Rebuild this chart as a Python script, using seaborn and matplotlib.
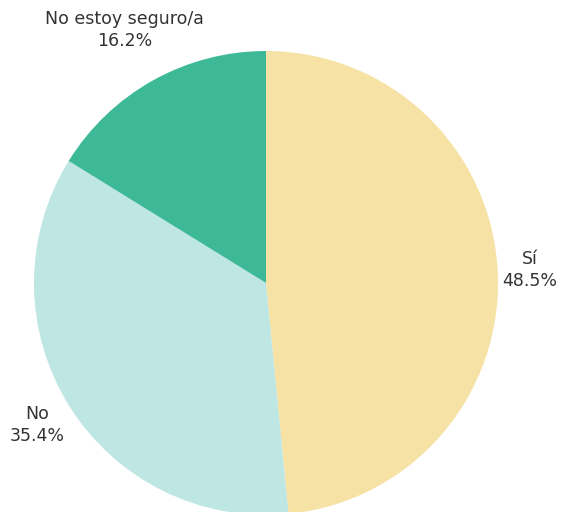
import numpy as np
import matplotlib
matplotlib.use("Agg")
import matplotlib.pyplot as plt
import seaborn as sns

sns.set_theme(style="white")
plt.rcParams['font.family'] = ['DejaVu Sans']

# Data
labels = ['Sí', 'No', 'No estoy seguro/a']
values = [48.5, 35.4, 16.2]
colors = ['#F6E2A5', '#BEE6E3', '#3DB997']
label_dist = [1.14, 1.16, 1.25]

fig = plt.figure(figsize=(5.61, 5.12), dpi=100)
# pie centre at (266, 283) px, radius 232 px
r_px = 232
ax = fig.add_axes([(266 - r_px) / 561, (512 - 283 - r_px) / 512,
                   2 * r_px / 561, 2 * r_px / 512])

wedges, _ = ax.pie(values, colors=colors, startangle=90, counterclock=False,
                   radius=1, wedgeprops=dict(linewidth=0))

for w, lab, val, d in zip(wedges, labels, values, label_dist):
    ang = np.deg2rad((w.theta1 + w.theta2) / 2)
    ax.text(d * np.cos(ang), d * np.sin(ang), f'{lab}\n{val:.1f}%',
            ha='center', va='center', fontsize=12.5, color='#333333',
            linespacing=1.3)

ax.set_xlim(-1, 1)
ax.set_ylim(-1, 1)
ax.set_aspect('equal')
ax.axis('off')

plt.savefig('out.png', dpi=100)
plt.close()
